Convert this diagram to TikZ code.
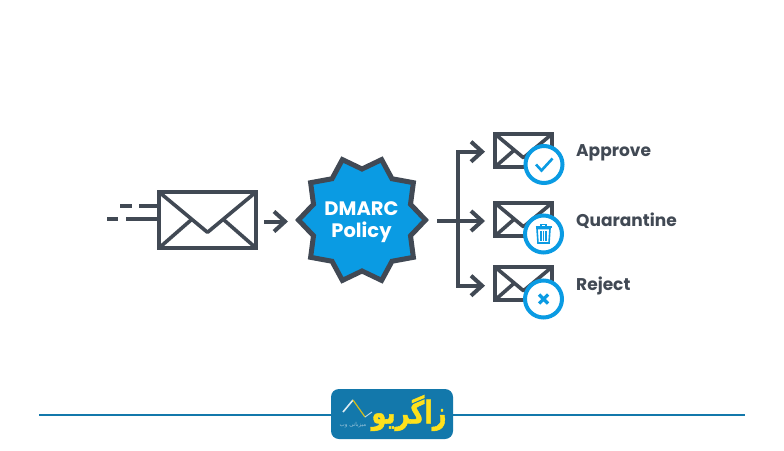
\documentclass[tikz,border=0pt]{standalone}
\usepackage{graphicx}
\usepackage{fontspec}
\setmainfont{Poppins}
\newfontfamily\arabicfont[Script=Arabic,FakeBold=1.6]{DejaVu Sans Bold}
\newfontfamily\arabicsmall[Script=Arabic]{DejaVu Sans}
\TeXXeTstate=1
\usetikzlibrary{arrows.meta}
\definecolor{ink}{HTML}{414954}
\definecolor{sky}{HTML}{0A9BE3}
\definecolor{teal}{HTML}{1378AB}
\definecolor{gold}{HTML}{FFE11C}
\tikzset{
  ln/.style={draw=ink,line width=4pt},
  arrowline/.style={ln,-{Straight Barb[length=11pt,width=20pt,line width=4pt]}},
  envbox/.style={draw=ink,line width=4.4pt,fill=white},
  badge/.style={circle,draw=sky,fill=white,line width=4pt,minimum size=37pt,inner sep=0pt},
  lbl/.style={text=ink,font=\bfseries\fontsize{17}{19}\selectfont,anchor=west,inner sep=0pt},
  mark ink/.style={draw=sky,line width=2.6pt},
}
\newcommand{\envelope}[4]{% x0 y0 x1 y1
  \draw[envbox] (#1,#2) rectangle (#3,#4);
  \draw[draw=ink,line width=3.6pt,line join=round] (#1,#2) -- ({#1+0.50*(#3-#1)},{#2+0.72*(#4-#2)}) -- (#3,#2);
  \draw[draw=ink,line width=3.6pt] (#1,#4) -- ({#1+0.33*(#3-#1)},{#2+0.50*(#4-#2)});
  \draw[draw=ink,line width=3.6pt] (#3,#4) -- ({#1+0.67*(#3-#1)},{#2+0.50*(#4-#2)});
}
\begin{document}
\begin{tikzpicture}[x=1pt,y=-1pt]
\useasboundingbox[fill=white] (0,0) rectangle (784,450);

% speed lines
\coordinate (s1a) at (120,205.5); \coordinate (s1b) at (132,205.5);
\coordinate (s2a) at (139,205.5); \coordinate (s2b) at (158,205.5);
\coordinate (s3a) at (107,219); \coordinate (s3b) at (118,219);
\coordinate (s4a) at (126,219); \coordinate (s4b) at (158,219);
\draw[ln] (s1a) -- (s1b) (s2a) -- (s2b) (s3a) -- (s3b) (s4a) -- (s4b);

% big envelope
\envelope{159}{192}{256}{248}

% first arrow
\coordinate (a0) at (264,221.5);
\coordinate (a1) at (288,221.5);
\draw[arrowline] (a0) -- (a1);

% star
\draw[shift={(362,220)},draw=ink,fill=sky,line width=5pt,line join=miter]
  (0:63.5) -- (18:51) -- (36:63.5) -- (54:51) -- (72:63.5) -- (90:51) -- (108:63.5) -- (126:51)
  -- (144:63.5) -- (162:51) -- (180:63.5) -- (198:51) -- (216:63.5) -- (234:51) -- (252:63.5)
  -- (270:51) -- (288:63.5) -- (306:51) -- (324:63.5) -- (342:51) -- cycle;
\node[text=white,font=\bfseries\fontsize{19.5}{20}\selectfont,align=center,inner sep=0pt] (policy) at (361.5,222.5) {DMARC\\[2pt]Policy};

% branching connectors
\coordinate (t0) at (437,221);
\coordinate (jt) at (458,151.7);
\coordinate (jb) at (458,285.7);
\coordinate (t1) at (485,151.7);
\coordinate (t2) at (485,221);
\coordinate (t3) at (485,285.7);
\draw[arrowline] (t0) -- (t2);
\draw[arrowline] (458,221) -- (jt) -- (t1);
\draw[arrowline] (458,221) -- (jb) -- (t3);

% small envelopes
\envelope{495}{134}{552}{167}
\envelope{495}{203}{552}{236}
\envelope{495}{267}{552}{300}

% badges
\node[badge] (b1) at (544,164.5) {};
\node[badge] (b2) at (543.5,234) {};
\node[badge] (b3) at (543.5,299) {};

% check
\draw[mark ink,line join=miter] (536,164.5) -- (541.5,170.5) -- (552.5,158.5);
% trash
\draw[draw=sky,line width=1.6pt,fill=white] (537,228.5) -- (538,243) -- (549,243) -- (550,228.5) -- cycle;
\draw[draw=sky,line width=1.8pt] (535.5,227) -- (551.5,227);
\draw[draw=sky,line width=1.3pt] (541,226.5) -- (541,224.6) -- (546,224.6) -- (546,226.5);
\draw[draw=sky,line width=1.1pt] (541,231) -- (541,241) (543.5,231) -- (543.5,241) (546,231) -- (546,241);
% cross
\draw[draw=sky,line width=3.2pt] (539,294.5) -- (548,303.5) (548,294.5) -- (539,303.5);

% labels
\node[lbl] (approve) at (576,153) {Approve};
\node[lbl] (quar) at (576,220.5) {Quarantine};
\node[lbl] (reject) at (576,286) {Reject};

% footer
\coordinate (fl) at (39,415);
\coordinate (fr) at (745,415);
\draw[draw=teal,line width=2.8pt] (fl) -- (fr);
\fill[teal,rounded corners=8pt] (331,389) rectangle (453,439);
\draw[draw=white!85!teal,line width=1.6pt] (343,412) -- (353,400);
\draw[draw=gold!85!black,line width=1.2pt] (353,400) -- (365,417);
\draw[draw=white!70!teal,line width=1pt] (365,417) -- (372,412);
\node[text=gold,inner sep=0pt,font=\arabicfont\fontsize{24}{25}\selectfont] (logo) at (409,413) {\scalebox{1}[1.3]{\beginR زاگریو\endR}};
\node[text=white!60!teal,inner sep=0pt,font=\arabicsmall\fontsize{5.5}{6}\selectfont] (sub) at (353,425) {\beginR میزبانی وب\endR};
\end{tikzpicture}
\end{document}
